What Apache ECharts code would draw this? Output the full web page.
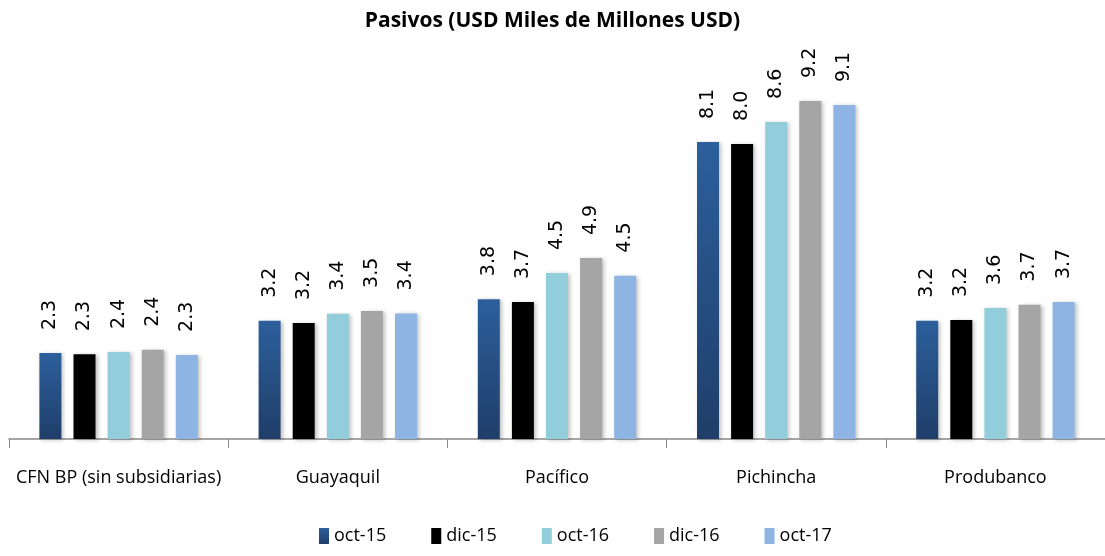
<!DOCTYPE html>
<html>
<head>
<meta charset="utf-8">
<script src="https://cdn.jsdelivr.net/npm/echarts@6/dist/echarts.min.js"></script>
<style>
  html, body { margin: 0; padding: 0; background: #ffffff; }
  #myChart { width: 1105px; height: 556px; }
</style>
</head>
<body>
<div id="myChart"></div>
<script>
// datos
var categorias = ["CFN BP (sin subsidiarias)", "Guayaquil", "Pacífico", "Pichincha", "Produbanco"];
var oct15 = [2.34, 3.22, 3.81, 8.09, 3.22];
var dic15 = [2.31, 3.16, 3.73, 8.04, 3.24];
var oct16 = [2.37, 3.41, 4.52, 8.64, 3.57];
var dic16 = [2.43, 3.49, 4.93, 9.21, 3.66];
var oct17 = [2.29, 3.42, 4.45, 9.10, 3.73];
var nombres = ["oct-15", "dic-15", "oct-16", "dic-16", "oct-17"];

var myChart = echarts.init(document.getElementById("myChart"));
var fuente = "'Liberation Sans Narrow', 'Open Sans', 'DejaVu Sans', sans-serif";

var colores = [
  new echarts.graphic.LinearGradient(0, 0, 0, 1, [
    { offset: 0, color: "#2c5f9c" },
    { offset: 1, color: "#1f3e69" }
  ]),
  "#000000",
  "#92cddc",
  "#a5a5a5",
  "#8eb4e3"
];

function serie(nombre, datos, i) {
  return {
    name: nombre,
    type: "bar",
    data: datos,
    barWidth: 22,
    barGap: "55%",
    itemStyle: {
      color: colores[i],
      shadowBlur: 4,
      shadowOffsetX: 2,
      shadowOffsetY: 1,
      shadowColor: "rgba(0,0,0,0.25)"
    },
    label: {
      show: true,
      position: "top",
      rotate: 90,
      align: "left",
      verticalAlign: "middle",
      distance: 20,
      offset: [3, 0],
      color: "#000",
      fontFamily: "'DejaVu Sans', sans-serif",
      fontSize: 19,
      formatter: function (p) { return p.value.toFixed(1); }
    }
  };
}

var option = {
  animation: false,
  title: {
    text: "Pasivos (USD Miles de Millones USD)",
    left: "center",
    top: 6,
    textStyle: { fontFamily: fuente, fontWeight: "bold", fontSize: 21, color: "#000" }
  },
  legend: {
    bottom: 6,
    left: 314,
    itemWidth: 10,
    itemHeight: 16,
    itemGap: 45,
    icon: "rect",
    textStyle: { fontFamily: fuente, fontSize: 18, color: "#000" },
    data: nombres
  },
  grid: { left: 9, right: -5, top: 72, bottom: 117, containLabel: false },
  xAxis: {
    type: "category",
    data: categorias,
    axisLine: { lineStyle: { color: "#888888", width: 1.5 } },
    axisTick: { show: true, length: 9, alignWithLabel: false, lineStyle: { color: "#888888" } },
    axisLabel: { margin: 30, color: "#000", fontFamily: fuente, fontSize: 18, interval: 0 }
  },
  yAxis: {
    type: "value",
    min: 0,
    max: 10,
    show: false,
    splitLine: { show: false }
  },
  series: [
    serie(nombres[0], oct15, 0),
    serie(nombres[1], dic15, 1),
    serie(nombres[2], oct16, 2),
    serie(nombres[3], dic16, 3),
    serie(nombres[4], oct17, 4)
  ]
};

myChart.setOption(option);
</script>
</body>
</html>
